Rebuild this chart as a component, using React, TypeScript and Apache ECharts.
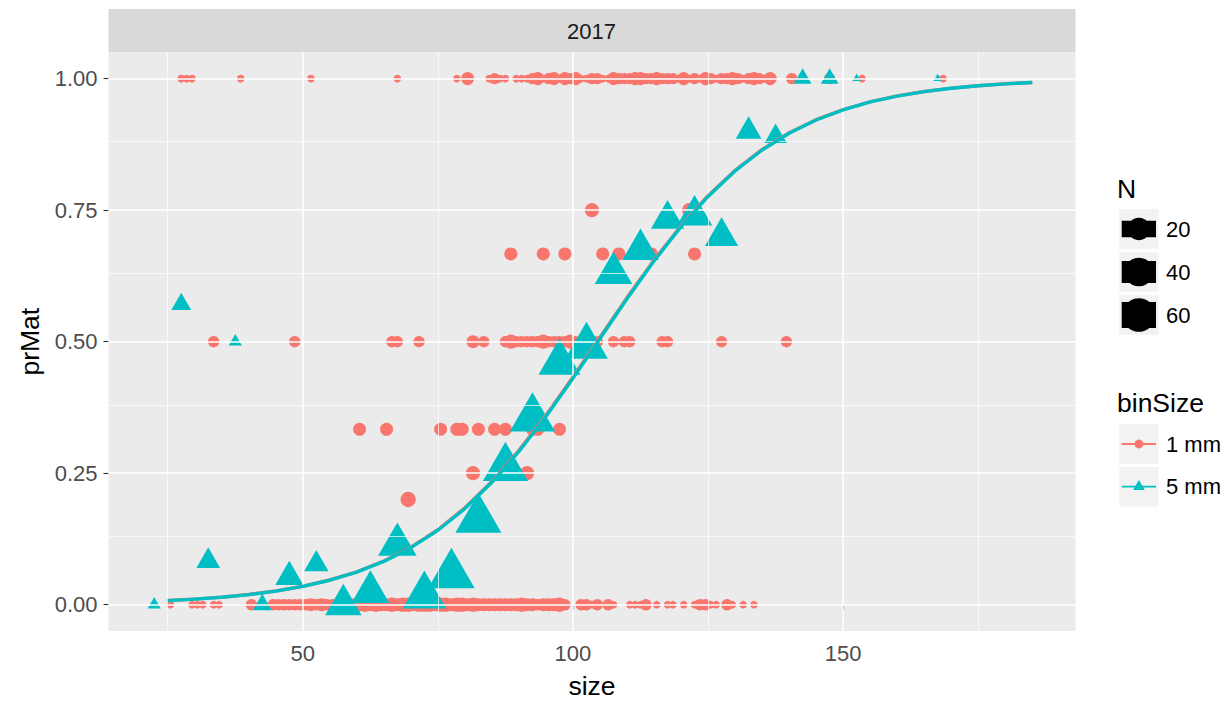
import React, { useEffect, useRef } from "react";
import * as echarts from "echarts";

const FONT = "'Liberation Sans', Arial, Helvetica, sans-serif";
const RED = "#F8766D";
const CYAN = "#00BFC4";
const SMALL_FONT = 22;
const TITLE_FONT = 26.5;

// axis ranges / ticks
const X_MIN = 14.04;
const X_MAX = 193.0;
const Y_MIN = -0.05;
const Y_MAX = 1.05;
const X_TICKS = [50, 100, 150];
const X_MINOR = [25, 75, 125, 175];
const Y_TICKS = [0, 0.25, 0.5, 0.75, 1];
const Y_MINOR = [0.125, 0.375, 0.625, 0.875];
const N_BREAKS = [20, 40, 60];
const N_MAX = 70;
const STRIP_LABEL = "2017";
const BIN_LABELS = ["1 mm", "5 mm"];

// ---- 1 mm bins: all mature (prMat = 1)
const matureSize = [
  27.5, 28.5, 29.5, 38.5, 51.5, 67.5, 78.5, 80.5, 84.5, 85.5,
  86.5, 87.5, 89.5, 90.5, 91.5, 92.5, 93.5, 94.5, 95.5, 96.5,
  97.5, 98.5, 99.5, 100.5, 101.5, 102.5, 103.5, 104.5, 105.5, 106.5,
  107.5, 108.5, 109.5, 110.5, 111.5, 112.5, 113.5, 114.5, 115.5, 116.5,
  117.5, 118.5, 119.5, 120.5, 121.5, 122.5, 123.5, 124.5, 125.5, 126.5,
  127.5, 128.5, 129.5, 130.5, 131.5, 132.5, 133.5, 134.5, 135.5, 136.5,
  140.5, 147.5, 153.5, 168.5,
];
const matureN = [
  1, 1, 1, 1, 1, 1, 1, 3, 1, 2,
  1, 1, 1, 1, 1, 2, 3, 1, 2, 3,
  1, 3, 2, 3, 1, 1, 2, 2, 1, 1,
  3, 2, 2, 2, 3, 3, 2, 2, 3, 2,
  2, 2, 1, 3, 1, 2, 1, 3, 2, 1,
  2, 2, 3, 2, 1, 2, 3, 2, 1, 3,
  2, 2, 1, 1,
];

// ---- 1 mm bins: all immature (prMat = 0)
const immatureSize = [
  25.5, 29.5, 30.5, 31.5, 33.5, 34.5, 40.5, 42.5, 44.5, 45.5,
  46.5, 47.5, 48.5, 49.5, 50.5, 51.5, 52.5, 53.5, 54.5, 55.5,
  56.5, 57.5, 58.5, 59.5, 60.5, 61.5, 62.5, 63.5, 64.5, 65.5,
  66.5, 67.5, 68.5, 69.5, 70.5, 71.5, 72.5, 73.5, 74.5, 75.5,
  76.5, 77.5, 78.5, 79.5, 80.5, 81.5, 82.5, 83.5, 84.5, 85.5,
  86.5, 87.5, 88.5, 89.5, 90.5, 91.5, 92.5, 93.5, 94.5, 95.5,
  96.5, 97.5, 98.5, 101.5, 102.5, 103.5, 104.5, 106.5, 107.5, 110.5,
  111.5, 112.5, 113.5, 115.5, 117.5, 118.5, 120.5, 122.5, 123.5, 124.5,
  125.5, 126.5, 128.5, 129.5, 131.5, 133.5,
];
const immatureN = [
  1, 1, 1, 1, 1, 1, 2, 1, 2, 2,
  2, 2, 2, 2, 2, 3, 2, 3, 2, 2,
  3, 3, 3, 3, 3, 4, 3, 4, 3, 3,
  4, 3, 4, 4, 3, 4, 4, 4, 3, 4,
  4, 3, 4, 4, 3, 4, 3, 3, 3, 3,
  3, 3, 3, 3, 4, 3, 3, 2, 3, 3,
  3, 4, 2, 2, 2, 1, 2, 2, 1, 1,
  1, 1, 2, 1, 1, 1, 1, 1, 2, 2,
  1, 1, 2, 1, 1, 1,
];

// ---- 1 mm bins: partially mature
const partSize = [
  33.5, 48.5, 66.5, 67.5, 71.5, 81.5, 83.5, 87.5, 88.5, 89.5,
  90.5, 91.5, 92.5, 93.5, 94.5, 95.5, 96.5, 97.5, 98.5, 99.5,
  100.5, 101.5, 102.5, 103.5, 104.5, 107.5, 109.5, 110.5, 116.5, 117.5,
  127.5, 139.5,
  88.5, 94.5, 98.5, 105.5, 108.5, 114.5, 122.5,
  60.5, 65.5, 75.5, 78.5, 79.5, 82.5, 85.5, 87.5, 92.5, 93.5, 97.5,
  103.5, 121.5,
  81.5, 91.5,
  69.5,
];
const partPr = [
  0.5, 0.5, 0.5, 0.5, 0.5, 0.5, 0.5, 0.5, 0.5, 0.5,
  0.5, 0.5, 0.5, 0.5, 0.5, 0.5, 0.5, 0.5, 0.5, 0.5,
  0.5, 0.5, 0.5, 0.5, 0.5, 0.5, 0.5, 0.5, 0.5, 0.5,
  0.5, 0.5,
  0.6667, 0.6667, 0.6667, 0.6667, 0.6667, 0.6667, 0.6667,
  0.3333, 0.3333, 0.3333, 0.3333, 0.3333, 0.3333, 0.3333, 0.3333, 0.3333, 0.3333, 0.3333,
  0.75, 0.75,
  0.25, 0.25,
  0.2,
];
const partN = [
  2, 2, 2, 2, 2, 3, 2, 2, 4, 2,
  2, 2, 2, 2, 4, 2, 2, 2, 2, 4,
  2, 2, 4, 2, 2, 2, 2, 2, 2, 2,
  2, 2,
  3, 3, 3, 3, 3, 3, 3,
  3, 3, 3, 3, 3, 3, 3, 3, 3, 3, 3,
  4, 4,
  4, 4,
  5,
];

// ---- 5 mm bins
const fiveSize = [
  22.5, 27.5, 32.5, 37.5, 42.5, 47.5, 52.5, 57.5, 62.5, 67.5,
  72.5, 77.5, 82.5, 87.5, 92.5, 97.5, 102.5, 107.5, 112.5, 117.5,
  122.5, 127.5, 132.5, 137.5, 142.5, 147.5, 152.5, 167.5,
];
const fivePr = [
  0, 0.571, 0.083, 0.5, 0, 0.053, 0.077, 0, 0.024, 0.114,
  0.017, 0.057, 0.162, 0.26, 0.354, 0.46, 0.491, 0.63, 0.675, 0.733,
  0.74, 0.70, 0.90, 0.89, 1, 1, 1, 1,
];
const fiveN = [
  2, 7, 12, 2, 6, 19, 13, 38, 42, 44,
  60, 70, 68, 65, 65, 54, 57, 41, 38, 30,
  35, 30, 15, 10, 5, 5, 1, 1,
];

// ---- fitted logistic curves
const fitSize = [
  25, 30, 35, 40, 45, 50, 55, 60, 65, 70, 75, 80, 85, 90, 95, 100, 105,
  110, 115, 120, 125, 130, 135, 140, 145, 150, 155, 160, 165, 170, 175, 180, 185,
];
const fit1mm = [
  0.0079, 0.0106, 0.0144, 0.0194, 0.0261, 0.0351, 0.047, 0.0626, 0.0831, 0.1094,
  0.1427, 0.1842, 0.2344, 0.2933, 0.36, 0.4327, 0.5084, 0.5837, 0.6552, 0.7204,
  0.7775, 0.8257, 0.8653, 0.897, 0.9219, 0.9412, 0.9559, 0.9671, 0.9755, 0.9819,
  0.9865, 0.9901, 0.9927,
];
const fit5mm = [
  0.0078, 0.0105, 0.0142, 0.0192, 0.0258, 0.0347, 0.0465, 0.062, 0.0823, 0.1084,
  0.1415, 0.1827, 0.2326, 0.2913, 0.3578, 0.4304, 0.5061, 0.5815, 0.6532, 0.7187,
  0.776, 0.8245, 0.8643, 0.8962, 0.9213, 0.9407, 0.9556, 0.9668, 0.9753, 0.9817,
  0.9864, 0.99, 0.9926,
];

function sizeScale(n: number): number {
  return 1 + 5 * Math.sqrt(Math.max(0, n - 1) / (N_MAX - 1));
}
const circleDiam = (n: number) => 6.4 * sizeScale(n) + 1.2;
const triWidth = (n: number) => 7.6 * sizeScale(n) + 1;

export default function App() {
  const ref = useRef<HTMLDivElement>(null);

  useEffect(() => {
    const chart = echarts.init(ref.current as HTMLDivElement, null, { renderer: "svg" });

    const circleData: any[] = [];
    matureSize.forEach((x, i) => circleData.push([x, 1, matureN[i]]));
    immatureSize.forEach((x, i) => circleData.push([x, 0, immatureN[i]]));
    partSize.forEach((x, i) => circleData.push([x, partPr[i], partN[i]]));

    const triData = fiveSize.map((x, i) => {
      const w = triWidth(fiveN[i]);
      const h = w * 0.866;
      return { value: [x, fivePr[i], fiveN[i]], symbolSize: [w, h], symbolOffset: [0, -h / 6] };
    });

    const gridLine = (axis: "xAxis" | "yAxis", v: number, width: number) => ({
      [axis]: v,
      lineStyle: { color: "#FFFFFF", width, type: "solid" },
    });

    const graphics: any[] = [];
    // facet strip
    graphics.push({
      type: "rect",
      shape: { x: 108.5, y: 9, width: 967, height: 43.3 },
      style: { fill: "#D9D9D9" },
      silent: true,
    });
    graphics.push({
      type: "text",
      x: 591.5,
      y: 31,
      style: { text: STRIP_LABEL, fontSize: SMALL_FONT, fontFamily: FONT, fill: "#1A1A1A", align: "center", verticalAlign: "middle" },
      silent: true,
    });

    // N legend
    graphics.push({
      type: "text",
      x: 1117,
      y: 189,
      style: { text: "N", fontSize: TITLE_FONT, fontFamily: FONT, fill: "#000", verticalAlign: "middle" },
    });
    N_BREAKS.forEach((n, i) => {
      const top = 209.3 + i * 43;
      const cy = top + 19.7;
      const s = sizeScale(n);
      graphics.push({ type: "rect", shape: { x: 1119.3, y: top, width: 39.4, height: 39.4 }, style: { fill: "#F2F2F2" } });
      const lh = 4.6 * s;
      graphics.push({ type: "rect", shape: { x: 1121.7, y: cy - lh / 2, width: 34.3, height: lh }, style: { fill: "#000" } });
      graphics.push({ type: "circle", shape: { cx: 1138.9, cy, r: (5.6 * s + 2) / 2 }, style: { fill: "#000" } });
      graphics.push({
        type: "text",
        x: 1166,
        y: cy,
        style: { text: String(n), fontSize: SMALL_FONT, fontFamily: FONT, fill: "#000", verticalAlign: "middle" },
      });
    });

    // binSize legend
    graphics.push({
      type: "text",
      x: 1117,
      y: 403,
      style: { text: "binSize", fontSize: TITLE_FONT, fontFamily: FONT, fill: "#000", verticalAlign: "middle" },
    });
    BIN_LABELS.forEach((lab, i) => {
      const top = 424.3 + i * 42.7;
      const cy = top + 19.7;
      const col = i === 0 ? RED : CYAN;
      graphics.push({ type: "rect", shape: { x: 1119.3, y: top, width: 39.4, height: 39.4 }, style: { fill: "#F2F2F2" } });
      graphics.push({
        type: "line",
        shape: { x1: 1121.7, y1: cy, x2: 1156, y2: cy },
        style: { stroke: col, lineWidth: 1.8 },
      });
      if (i === 0) {
        graphics.push({ type: "circle", shape: { cx: 1138.9, cy, r: 4.4 }, style: { fill: col } });
      } else {
        const w = 11.7;
        const h = w * 0.866;
        graphics.push({
          type: "polygon",
          shape: {
            points: [
              [1138.9, cy - (2 * h) / 3],
              [1138.9 - w / 2, cy + h / 3],
              [1138.9 + w / 2, cy + h / 3],
            ],
          },
          style: { fill: col },
        });
      }
      graphics.push({
        type: "text",
        x: 1166,
        y: cy,
        style: { text: lab, fontSize: SMALL_FONT, fontFamily: FONT, fill: "#000", verticalAlign: "middle" },
      });
    });

    const option: any = {
      animation: false,
      textStyle: { fontFamily: FONT },
      grid: {
        left: 108.5,
        right: 154.5,
        top: 52.3,
        bottom: 70.9,
        show: true,
        backgroundColor: "#EBEBEB",
        borderWidth: 0,
      },
      xAxis: {
        type: "value",
        min: X_MIN,
        max: X_MAX,
        axisLine: { show: false },
        axisTick: { show: true, length: 5, lineStyle: { color: "#333333", width: 1.1 }, customValues: X_TICKS },
        axisLabel: { customValues: X_TICKS, color: "#4D4D4D", fontSize: SMALL_FONT, margin: 11.5, fontFamily: FONT },
        splitLine: { show: false },
        name: "size",
        nameLocation: "middle",
        nameGap: 41,
        nameTextStyle: { fontSize: TITLE_FONT, color: "#000", fontFamily: FONT },
      },
      yAxis: {
        type: "value",
        min: Y_MIN,
        max: Y_MAX,
        axisLine: { show: false },
        axisTick: { show: true, length: 5, lineStyle: { color: "#333333", width: 1.1 }, customValues: Y_TICKS },
        axisLabel: {
          customValues: Y_TICKS,
          color: "#4D4D4D",
          fontSize: SMALL_FONT,
          margin: 11,
          fontFamily: FONT,
          formatter: (v: number) => v.toFixed(2),
        },
        splitLine: { show: false },
        name: "prMat",
        nameLocation: "middle",
        nameGap: 60,
        nameTextStyle: { fontSize: TITLE_FONT, color: "#000", fontFamily: FONT },
      },
      graphic: graphics,
      series: [
        {
          type: "scatter",
          data: [],
          z: 1,
          silent: true,
          markLine: {
            silent: true,
            symbol: ["none", "none"],
            label: { show: false },
            animation: false,
            lineStyle: { type: "solid", color: "#FFFFFF" },
            emphasis: { disabled: true },
            data: [
              ...X_MINOR.map((v) => gridLine("xAxis", v, 0.7)),
              ...Y_MINOR.map((v) => gridLine("yAxis", v, 0.7)),
              ...X_TICKS.map((v) => gridLine("xAxis", v, 1.5)),
              ...Y_TICKS.map((v) => gridLine("yAxis", v, 1.5)),
            ],
          },
        },
        {
          name: "1 mm",
          type: "scatter",
          z: 2,
          silent: true,
          data: circleData,
          symbol: "circle",
          symbolSize: (val: number[]) => circleDiam(val[2]),
          itemStyle: { color: RED, opacity: 1 },
        },
        {
          name: "5 mm",
          type: "scatter",
          z: 3,
          silent: true,
          data: triData,
          symbol: "triangle",
          itemStyle: { color: CYAN, opacity: 1 },
        },
        {
          type: "line",
          z: 4,
          silent: true,
          data: fitSize.map((x, i) => [x, fit1mm[i]]),
          showSymbol: false,
          symbol: "none",
          smooth: false,
          lineStyle: { color: RED, width: 3.4, join: "round" },
        },
        {
          type: "line",
          z: 5,
          silent: true,
          data: fitSize.map((x, i) => [x, fit5mm[i]]),
          showSymbol: false,
          symbol: "none",
          smooth: false,
          lineStyle: { color: CYAN, width: 3.4, join: "round" },
        },
      ],
    };

    chart.setOption(option);
    return () => chart.dispose();
  }, []);

  return (
    <div
      ref={ref}
      style={{ position: "fixed", left: 0, top: 0, width: 1230, height: 704, background: "#FFFFFF" }}
    />
  );
}
